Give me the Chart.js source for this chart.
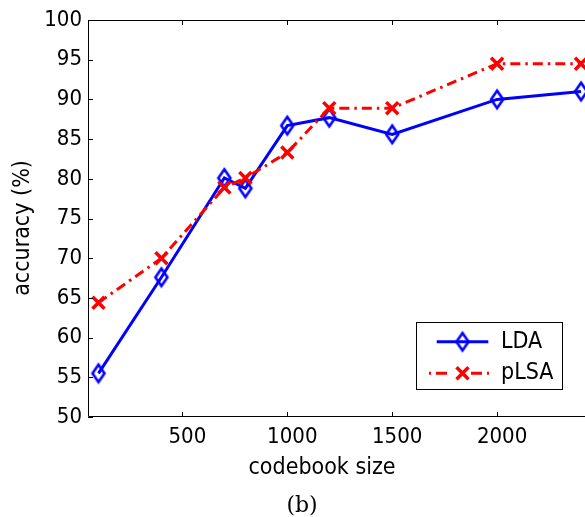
<!DOCTYPE html>
<html><head><meta charset="utf-8">
<script src="https://cdn.jsdelivr.net/npm/chart.js@4/dist/chart.umd.min.js"></script>
<style>html,body{margin:0;padding:0;overflow:hidden;background:#fff;width:585px;height:517px}canvas{display:block}</style>
</head><body><canvas id="c" width="585" height="517" style="width:585px;height:517px"></canvas>
<script>
const codebookSizes = [100, 400, 700, 800, 1000, 1200, 1500, 2000, 2400];
const ldaAccuracy = [55.5, 67.6, 80.1, 78.8, 86.7, 87.7, 85.6, 90.0, 91.0];
const plsaAccuracy = [64.4, 70.0, 78.9, 80.1, 83.3, 88.9, 88.9, 94.5, 94.5];
const xTickValues = [500, 1000, 1500, 2000];
const yTickValues = [50, 55, 60, 65, 70, 75, 80, 85, 90, 95, 100];
const seriesNames = ['LDA', 'pLSA'];
const xAxisTitle = 'codebook size';
const yAxisTitle = 'accuracy (%)';
const panelLabel = '(b)';

const SANS = "'DejaVu Sans Condensed', 'DejaVu Sans', sans-serif";
const SERIF = "'DejaVu Serif', serif";
const BLUE = '#0000ff', RED = '#ff0000';
const DASH = [10, 5, 2.5, 5];

function makeDiamond() {
  const c = document.createElement('canvas');
  c.width = 22; c.height = 28;
  const g = c.getContext('2d');
  g.strokeStyle = BLUE; g.lineWidth = 2.6; g.lineJoin = 'miter';
  g.beginPath();
  g.moveTo(11, 14 - 8.8); g.lineTo(11 + 6, 14); g.lineTo(11, 14 + 8.8); g.lineTo(11 - 6, 14);
  g.closePath(); g.stroke();
  return c;
}
const diamond = makeDiamond();

const decor = {
  id: 'decor',
  afterDraw(chart) {
    const ctx = chart.ctx, a = chart.chartArea;
    const xs = chart.scales.x, ys = chart.scales.y;
    ctx.save();
    ctx.strokeStyle = '#000'; ctx.lineWidth = 1;
    ctx.beginPath();
    // box (right edge lies just outside the visible picture)
    ctx.moveTo(a.right + 2, a.top + 0.5); ctx.lineTo(a.left + 0.5, a.top + 0.5);
    ctx.lineTo(a.left + 0.5, a.bottom - 0.5); ctx.lineTo(a.right + 2, a.bottom - 0.5);
    xTickValues.forEach(v => {
      const px = Math.round(xs.getPixelForValue(v)) + 0.5;
      ctx.moveTo(px, a.bottom); ctx.lineTo(px, a.bottom - 5);
      ctx.moveTo(px, a.top); ctx.lineTo(px, a.top + 5);
    });
    yTickValues.forEach(v => {
      const py = Math.round(ys.getPixelForValue(v)) + 0.5;
      ctx.moveTo(a.left, py); ctx.lineTo(a.left + 5, py);
    });
    ctx.stroke();

    // axis titles
    ctx.fillStyle = '#000';
    ctx.font = '23px ' + SANS;
    ctx.textAlign = 'center'; ctx.textBaseline = 'alphabetic';
    ctx.fillText(xAxisTitle, 322, 474);
    ctx.save();
    ctx.translate(29, 228); ctx.rotate(-Math.PI / 2);
    ctx.fillText(yAxisTitle, 0, 0);
    ctx.restore();
    ctx.font = '22px ' + SERIF;
    ctx.fillText(panelLabel, 302, 512);

    // legend
    const bx = 416.5, by = 322.5, bw = 146, bh = 67;
    ctx.fillStyle = '#fff'; ctx.fillRect(bx, by, bw, bh);
    ctx.strokeStyle = '#000'; ctx.lineWidth = 1; ctx.strokeRect(bx, by, bw, bh);
    const r1 = 341.7, r2 = 373.3, cx = 462.5;
    ctx.strokeStyle = BLUE; ctx.lineWidth = 3;
    ctx.beginPath(); ctx.moveTo(436.7, r1); ctx.lineTo(488.3, r1); ctx.stroke();
    ctx.drawImage(diamond, cx - 11, r1 - 14);
    ctx.strokeStyle = RED; ctx.lineWidth = 3;
    ctx.setLineDash([2, 5, 11, 100]);
    ctx.beginPath(); ctx.moveTo(429, r2); ctx.lineTo(cx, r2); ctx.stroke();
    ctx.beginPath(); ctx.moveTo(489, r2); ctx.lineTo(cx, r2); ctx.stroke();
    ctx.setLineDash([]);
    ctx.lineWidth = 3.5;
    const d = 6;
    ctx.beginPath();
    ctx.moveTo(cx - d, r2 - d); ctx.lineTo(cx + d, r2 + d);
    ctx.moveTo(cx - d, r2 + d); ctx.lineTo(cx + d, r2 - d);
    ctx.stroke();
    ctx.fillStyle = '#000'; ctx.font = '23px ' + SANS;
    ctx.textAlign = 'left'; ctx.textBaseline = 'middle';
    ctx.fillText(chart.data.datasets[0].label, 501, r1);
    ctx.fillText(chart.data.datasets[1].label, 501, r2);
    ctx.restore();
  }
};

new Chart(document.getElementById('c'), {
  type: 'line',
  data: {
    datasets: [
      {
        label: seriesNames[0],
        data: codebookSizes.map((x, i) => ({ x, y: ldaAccuracy[i] })),
        borderColor: BLUE, backgroundColor: BLUE, borderWidth: 3,
        pointStyle: diamond, pointRadius: 10, pointHoverRadius: 10,
        tension: 0, fill: false, order: 1, clip: false
      },
      {
        label: seriesNames[1],
        data: codebookSizes.map((x, i) => ({ x, y: plsaAccuracy[i] })),
        borderColor: RED, backgroundColor: RED, borderWidth: 3, borderDash: DASH,
        pointStyle: 'crossRot', pointRadius: 8.5, pointBorderWidth: 3.5,
        pointBorderColor: RED, pointHoverRadius: 8.5,
        tension: 0, fill: false, order: 0, clip: false
      }
    ]
  },
  options: {
    responsive: false, animation: false, devicePixelRatio: 1,
    layout: { autoPadding: false, padding: { top: 20, left: 0, right: 0, bottom: 0 } },
    plugins: { legend: { display: false }, tooltip: { enabled: false }, title: { display: false } },
    scales: {
      x: {
        type: 'linear', position: 'bottom', min: 50, max: 2419,
        grid: { display: false, drawTicks: false }, border: { display: false },
        ticks: { font: { family: SANS, size: 22 }, color: '#000', padding: 7, labelOffset: 5, autoSkip: false, maxRotation: 0,
                 callback: v => String(v) },
        afterBuildTicks: s => { s.ticks = xTickValues.map(v => ({ value: v })); },
        afterFit: s => { s.height = 100; }
      },
      y: {
        type: 'linear', position: 'left', min: 50, max: 100,
        grid: { display: false, drawTicks: false }, border: { display: false },
        ticks: { font: { family: SANS, size: 22 }, color: '#000', padding: 6, autoSkip: false,
                 callback: v => String(v) },
        afterBuildTicks: s => { s.ticks = yTickValues.map(v => ({ value: v })); },
        afterFit: s => { s.width = 88; }
      }
    }
  },
  plugins: [decor]
});
</script>
</body></html>
